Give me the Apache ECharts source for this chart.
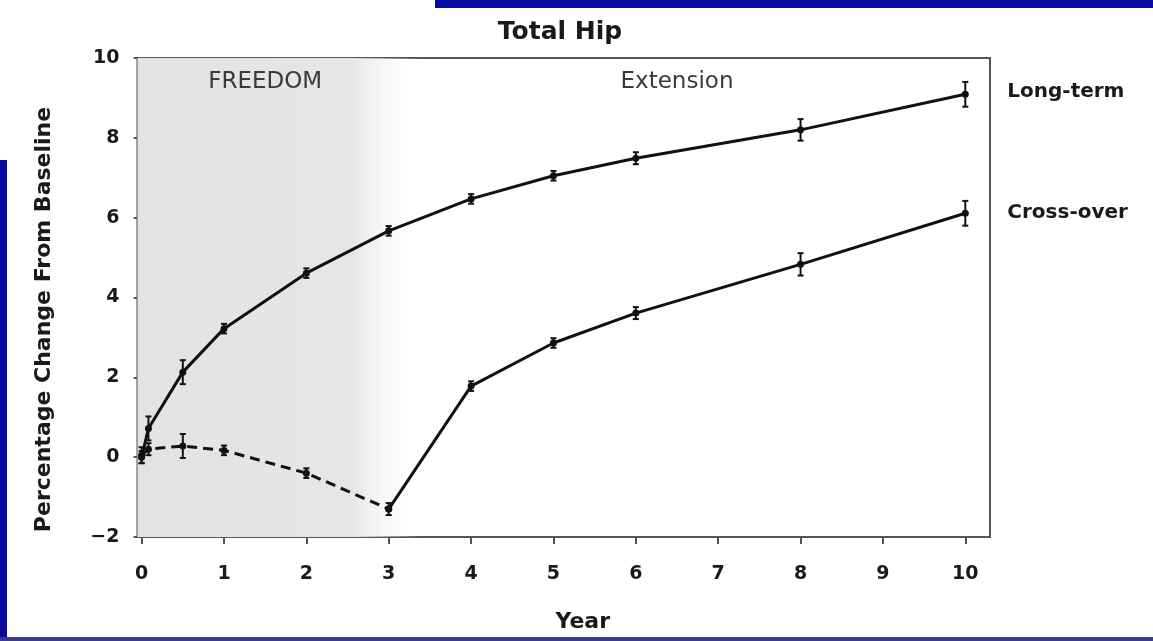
<!DOCTYPE html>
<html>
<head>
<meta charset="utf-8">
<script src="https://cdn.jsdelivr.net/npm/echarts@6/dist/echarts.min.js"></script>
<style>
html,body{margin:0;padding:0;background:#fff;}
#chart{width:1153px;height:641px;}
</style>
</head>
<body>
<div id="chart"></div>
<script>
// ---- data ----
var years = [0, 0.083, 0.5, 1, 2, 3, 4, 5, 6, 8, 10];
var longTerm = [0, 0.72, 2.13, 3.22, 4.61, 5.67, 6.47, 7.05, 7.49, 8.2, 9.09];
var longTermErr = [0.15, 0.3, 0.3, 0.12, 0.12, 0.12, 0.12, 0.12, 0.15, 0.27, 0.31];
var crossOver = [0.05, 0.2, 0.28, 0.17, -0.4, -1.3, 1.78, 2.86, 3.61, 4.83, 6.11];
var crossOverErr = [0.2, 0.15, 0.3, 0.12, 0.12, 0.15, 0.12, 0.12, 0.15, 0.28, 0.31];
var xTicks = [0, 1, 2, 3, 4, 5, 6, 7, 8, 9, 10];
var yTicks = [-2, 0, 2, 4, 6, 8, 10];
var phases = [{name: 'FREEDOM', from: 0, to: 3}, {name: 'Extension', from: 3, to: 10}];
var switchIndex = 5; // cross-over: placebo (dashed) until year 3, then denosumab (solid)
var titleText = 'Total Hip';
var xName = 'Year';
var yName = 'Percentage Change From Baseline';

// ---- build ----
function pairs(xs, ys) { return xs.map(function (x, i) { return [x, ys[i]]; }); }
function triples(xs, ys, es) { return xs.map(function (x, i) { return [x, ys[i], es[i]]; }); }

var X_MIN = -0.05, X_MAX = 10.3;
var FONT = '"DejaVu Sans", "Liberation Sans", sans-serif';

function errRender(params, api) {
  var x = api.value(0), y = api.value(1), e = api.value(2);
  var top = api.coord([x, y + e]);
  var bot = api.coord([x, y - e]);
  var w = 3;
  var st = {stroke: '#111', lineWidth: 2};
  return {
    type: 'group',
    children: [
      {type: 'line', shape: {x1: top[0], y1: top[1], x2: bot[0], y2: bot[1]}, style: st},
      {type: 'line', shape: {x1: top[0] - w, y1: top[1], x2: top[0] + w, y2: top[1]}, style: st},
      {type: 'line', shape: {x1: bot[0] - w, y1: bot[1], x2: bot[0] + w, y2: bot[1]}, style: st}
    ]
  };
}

var lineCommon = {
  type: 'line',
  symbol: 'circle',
  symbolSize: 7,
  itemStyle: {color: '#111'},
  z: 3,
  animation: false
};

var chart = echarts.init(document.getElementById('chart'), null, {renderer: 'canvas'});
chart.setOption({
  backgroundColor: '#ffffff',
  animation: false,
  title: {
    text: titleText,
    left: 555, top: 15, textAlign: 'center',
    textStyle: {fontFamily: FONT, fontWeight: 'bold', fontSize: 25, color: '#1a1a1a'}
  },
  graphic: [
    {type: 'rect', shape: {x: 435, y: 0, width: 718, height: 8}, style: {fill: '#0a0aa0'}, z: 10},
    {type: 'rect', shape: {x: 0, y: 160, width: 7, height: 481}, style: {fill: '#0a0a96'}, z: 10},
    {type: 'rect', shape: {x: 0, y: 637, width: 1153, height: 4}, style: {fill: '#3a3a8c'}, z: 10}
  ],
  grid: {
    left: 137.5, right: 163, top: 58, bottom: 104,
    show: true, borderColor: '#555', borderWidth: 2, backgroundColor: 'transparent'
  },
  xAxis: {
    type: 'value', min: X_MIN, max: X_MAX,
    name: xName, nameLocation: 'middle', nameGap: 74,
    nameTextStyle: {fontFamily: FONT, fontWeight: 'bold', fontSize: 22, color: '#1a1a1a', padding: [0, 0, 0, 38]},
    axisLine: {show: true, onZero: false, lineStyle: {color: '#555', width: 2}},
    axisTick: {show: true, customValues: xTicks, length: 7, lineStyle: {color: '#555', width: 2}},
    axisLabel: {show: true, customValues: xTicks, margin: 28, fontFamily: FONT, fontWeight: 'bold', fontSize: 19, color: '#1a1a1a'},
    splitLine: {show: false}
  },
  yAxis: {
    type: 'value', min: -2, max: 10, interval: 2,
    name: yName, nameLocation: 'middle', nameGap: 82,
    nameTextStyle: {fontFamily: FONT, fontWeight: 'bold', fontSize: 22, color: '#1a1a1a', padding: [0, 44, 0, 0]},
    axisLine: {show: true, lineStyle: {color: '#555', width: 2}},
    axisTick: {show: true, length: 8, lineStyle: {color: '#555', width: 2}},
    axisLabel: {
      margin: 18, fontFamily: FONT, fontWeight: 'bold', fontSize: 19, color: '#1a1a1a',
      customValues: yTicks,
      formatter: function (v) { return v < 0 ? '\u2212' + Math.abs(v) : String(v); }
    },
    splitLine: {show: false}
  },
  series: [
    Object.assign({}, lineCommon, {
      name: 'Long-term',
      data: pairs(years, longTerm),
      lineStyle: {color: '#111', width: 3},
      endLabel: {show: true, formatter: '{a}', distance: 42, offset: [0, -3], fontFamily: FONT, fontWeight: 'bold', fontSize: 20, color: '#1a1a1a'},
      markArea: {
        silent: true,
        data: [
          [{xAxis: X_MIN, itemStyle: {color: {type: 'linear', x: 0, y: 0, x2: 1, y2: 0, colorStops: [
            {offset: 0, color: '#e3e3e3'}, {offset: 0.76, color: '#e6e6e6'}, {offset: 1, color: 'rgba(255,255,255,0)'}]}}},
           {xAxis: 3.4}]
        ].concat(phases.map(function (p) {
          return [{name: p.name, xAxis: p.from, itemStyle: {color: 'rgba(0,0,0,0)'},
                   label: {show: true, position: 'insideTop', distance: 13, fontFamily: FONT, fontSize: 23, color: '#3a3a3a'}},
                  {xAxis: p.to}];
        }))
      }
    }),
    Object.assign({}, lineCommon, {
      name: 'Cross-over',
      data: pairs(years.slice(0, switchIndex + 1), crossOver.slice(0, switchIndex + 1)),
      lineStyle: {color: '#111', width: 3, type: [10, 6]}
    }),
    Object.assign({}, lineCommon, {
      name: 'Cross-over',
      data: pairs(years.slice(switchIndex), crossOver.slice(switchIndex)),
      lineStyle: {color: '#111', width: 3},
      endLabel: {show: true, formatter: '{a}', distance: 42, fontFamily: FONT, fontWeight: 'bold', fontSize: 20, color: '#1a1a1a'}
    }),
    {
      type: 'custom', name: 'Long-term SE', renderItem: errRender,
      data: triples(years, longTerm, longTermErr), z: 4, silent: true,
      encode: {x: 0, y: [1]}
    },
    {
      type: 'custom', name: 'Cross-over SE', renderItem: errRender,
      data: triples(years, crossOver, crossOverErr), z: 4, silent: true,
      encode: {x: 0, y: [1]}
    }
  ]
});
</script>
</body>
</html>
